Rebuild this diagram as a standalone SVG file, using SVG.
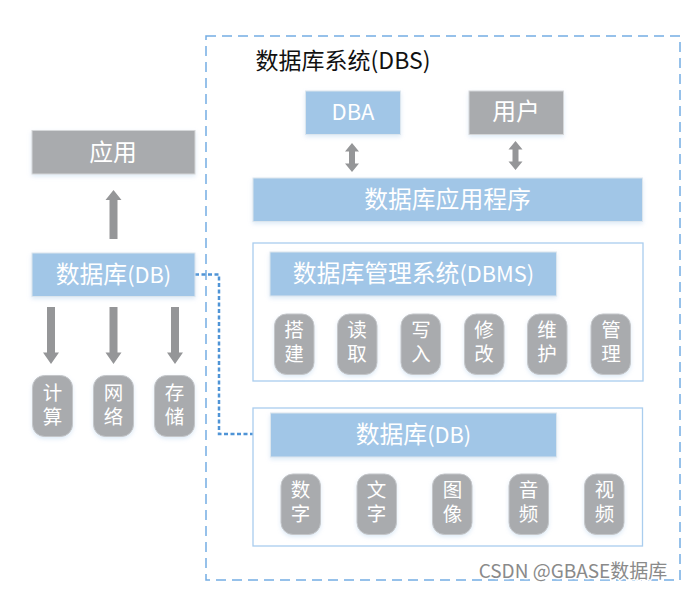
<svg xmlns="http://www.w3.org/2000/svg" width="684" height="590" viewBox="0 0 684 590">
<defs>
<filter id="s" x="-10%" y="-10%" width="120%" height="130%"><feDropShadow dx="0" dy="2" stdDeviation="2" flood-color="#a2c6e8" flood-opacity="0.35"/></filter>
<path id="d" d="M-4 -28.500H4V17H8L0 28.500L-8 17H-4Z" fill="#959698"/>
<path id="b" d="M0 -14.500L7 -6H3V6H7L0 14.500L-7 6H-3V-6H-7Z" fill="#959698"/>
</defs>
<style>
text{font-family:"Liberation Sans","Noto Sans CJK SC",sans-serif;text-anchor:middle}
.blue{fill:#a1c6e7;stroke:#dce6ee;stroke-width:1;filter:url(#s)}
.gray{fill:#a9abae;stroke:#d5d7d9;stroke-width:1;filter:url(#s)}
.pill{fill:#a9abae;stroke:#c4c6c9;stroke-width:1;filter:url(#s)}
.frame{fill:#fff;stroke:#aacdee;stroke-width:1.300}
.t{fill:#fff;font-size:23.800px;font-family:"Noto Sans CJK SC","Liberation Sans",sans-serif}
.l{font-size:21.800px}
.p{fill:#fff;font-size:19.500px}
</style>
<g id="dbs"><rect x="206" y="36" width="474" height="544" fill="#fff" stroke="#74ade3" stroke-width="1.500" stroke-dasharray="10 6"/>
<text x="343" y="69" font-size="23" fill="#111" style="font-family:'Noto Sans CJK SC',sans-serif">数据库系统(DBS)</text></g>
<g id="connectors">
<path d="M195 274.500H219V434H270" fill="none" stroke="#4f94d6" stroke-width="2.500" stroke-dasharray="4 2.500"/>
<use href="#d" transform="translate(113.500 214.500) rotate(180) scale(1 .86)"/>
<use href="#d" x="51" y="335.500"/>
<use href="#d" x="113.500" y="335.500"/>
<use href="#d" x="175" y="335.500"/>
<use href="#b" x="352" y="157.500"/>
<use href="#b" x="515.500" y="155.500"/>
</g>
<g id="app"><rect class="gray" x="32" y="130.500" width="163" height="43.500"/><text class="t" x="113" y="160.500">应用</text></g>
<g id="db-left"><rect class="blue" x="32" y="253" width="163" height="43.500"/><text class="t" x="113.500" y="283">数据库<tspan class="l">(DB)</tspan></text></g>
<g id="calc"><rect class="pill" x="32.500" y="375.500" width="40" height="61" rx="12"/><text class="p"><tspan x="52.500" y="400">计</tspan><tspan x="52.500" y="424">算</tspan></text></g>
<g id="net"><rect class="pill" x="93.500" y="375.500" width="40" height="61" rx="12"/><text class="p"><tspan x="113.500" y="400">网</tspan><tspan x="113.500" y="424">络</tspan></text></g>
<g id="store"><rect class="pill" x="154.500" y="375.500" width="40" height="61" rx="12"/><text class="p"><tspan x="174.500" y="400">存</tspan><tspan x="174.500" y="424">储</tspan></text></g>
<g id="dba"><rect class="blue" x="305.500" y="91" width="95" height="43.500"/><text class="t" x="353" y="120" style="font-size:22px">DBA</text></g>
<g id="user"><rect class="gray" x="469" y="91" width="94.500" height="43.500"/><text class="t" x="516" y="120">用户</text></g>
<g id="dbapp"><rect class="blue" x="253" y="178" width="389.500" height="43.500"/><text class="t" x="447.500" y="207.500">数据库应用程序</text></g>
<g id="dbms-frame"><rect class="frame" x="253" y="243" width="390" height="138"/></g>
<g id="dbms"><rect class="blue" x="270" y="252" width="286.500" height="44"/><text class="t" x="413.500" y="282">数据库管理系统<tspan class="l">(DBMS)</tspan></text></g>
<g id="m1"><rect class="pill" x="274.500" y="314" width="39.500" height="60.500" rx="12"/><text class="p"><tspan x="294" y="337">搭</tspan><tspan x="294" y="361">建</tspan></text></g>
<g id="m2"><rect class="pill" x="337.500" y="314" width="39.500" height="60.500" rx="12"/><text class="p"><tspan x="357" y="337">读</tspan><tspan x="357" y="361">取</tspan></text></g>
<g id="m3"><rect class="pill" x="401" y="314" width="39.500" height="60.500" rx="12"/><text class="p"><tspan x="421" y="337">写</tspan><tspan x="421" y="361">入</tspan></text></g>
<g id="m4"><rect class="pill" x="464.500" y="314" width="39.500" height="60.500" rx="12"/><text class="p"><tspan x="484" y="337">修</tspan><tspan x="484" y="361">改</tspan></text></g>
<g id="m5"><rect class="pill" x="527.500" y="314" width="39.500" height="60.500" rx="12"/><text class="p"><tspan x="547" y="337">维</tspan><tspan x="547" y="361">护</tspan></text></g>
<g id="m6"><rect class="pill" x="591" y="314" width="39.500" height="60.500" rx="12"/><text class="p"><tspan x="611" y="337">管</tspan><tspan x="611" y="361">理</tspan></text></g>
<g id="db-frame"><rect class="frame" x="253" y="408" width="389.500" height="138"/></g>
<g id="db"><rect class="blue" x="270.500" y="413" width="286" height="44"/><text class="t" x="413.500" y="443">数据库<tspan class="l">(DB)</tspan></text></g>
<g id="d1"><rect class="pill" x="281" y="474" width="39.500" height="60.500" rx="12"/><text class="p"><tspan x="300.500" y="497">数</tspan><tspan x="300.500" y="521">字</tspan></text></g>
<g id="d2"><rect class="pill" x="357" y="474" width="39.500" height="60.500" rx="12"/><text class="p"><tspan x="376.500" y="497">文</tspan><tspan x="376.500" y="521">字</tspan></text></g>
<g id="d3"><rect class="pill" x="432.500" y="474" width="39.500" height="60.500" rx="12"/><text class="p"><tspan x="452.500" y="497">图</tspan><tspan x="452.500" y="521">像</tspan></text></g>
<g id="d4"><rect class="pill" x="509" y="474" width="39.500" height="60.500" rx="12"/><text class="p"><tspan x="528.500" y="497">音</tspan><tspan x="528.500" y="521">频</tspan></text></g>
<g id="d5"><rect class="pill" x="584.500" y="474" width="39.500" height="60.500" rx="12"/><text class="p"><tspan x="604.500" y="497">视</tspan><tspan x="604.500" y="521">频</tspan></text></g>
<text x="573" y="578" font-size="19" fill="#8a8a8a" stroke="#fff" stroke-width="2.500" paint-order="stroke" style="font-family:'Noto Sans CJK SC',sans-serif">CSDN @GBASE数据库</text>
</svg>
